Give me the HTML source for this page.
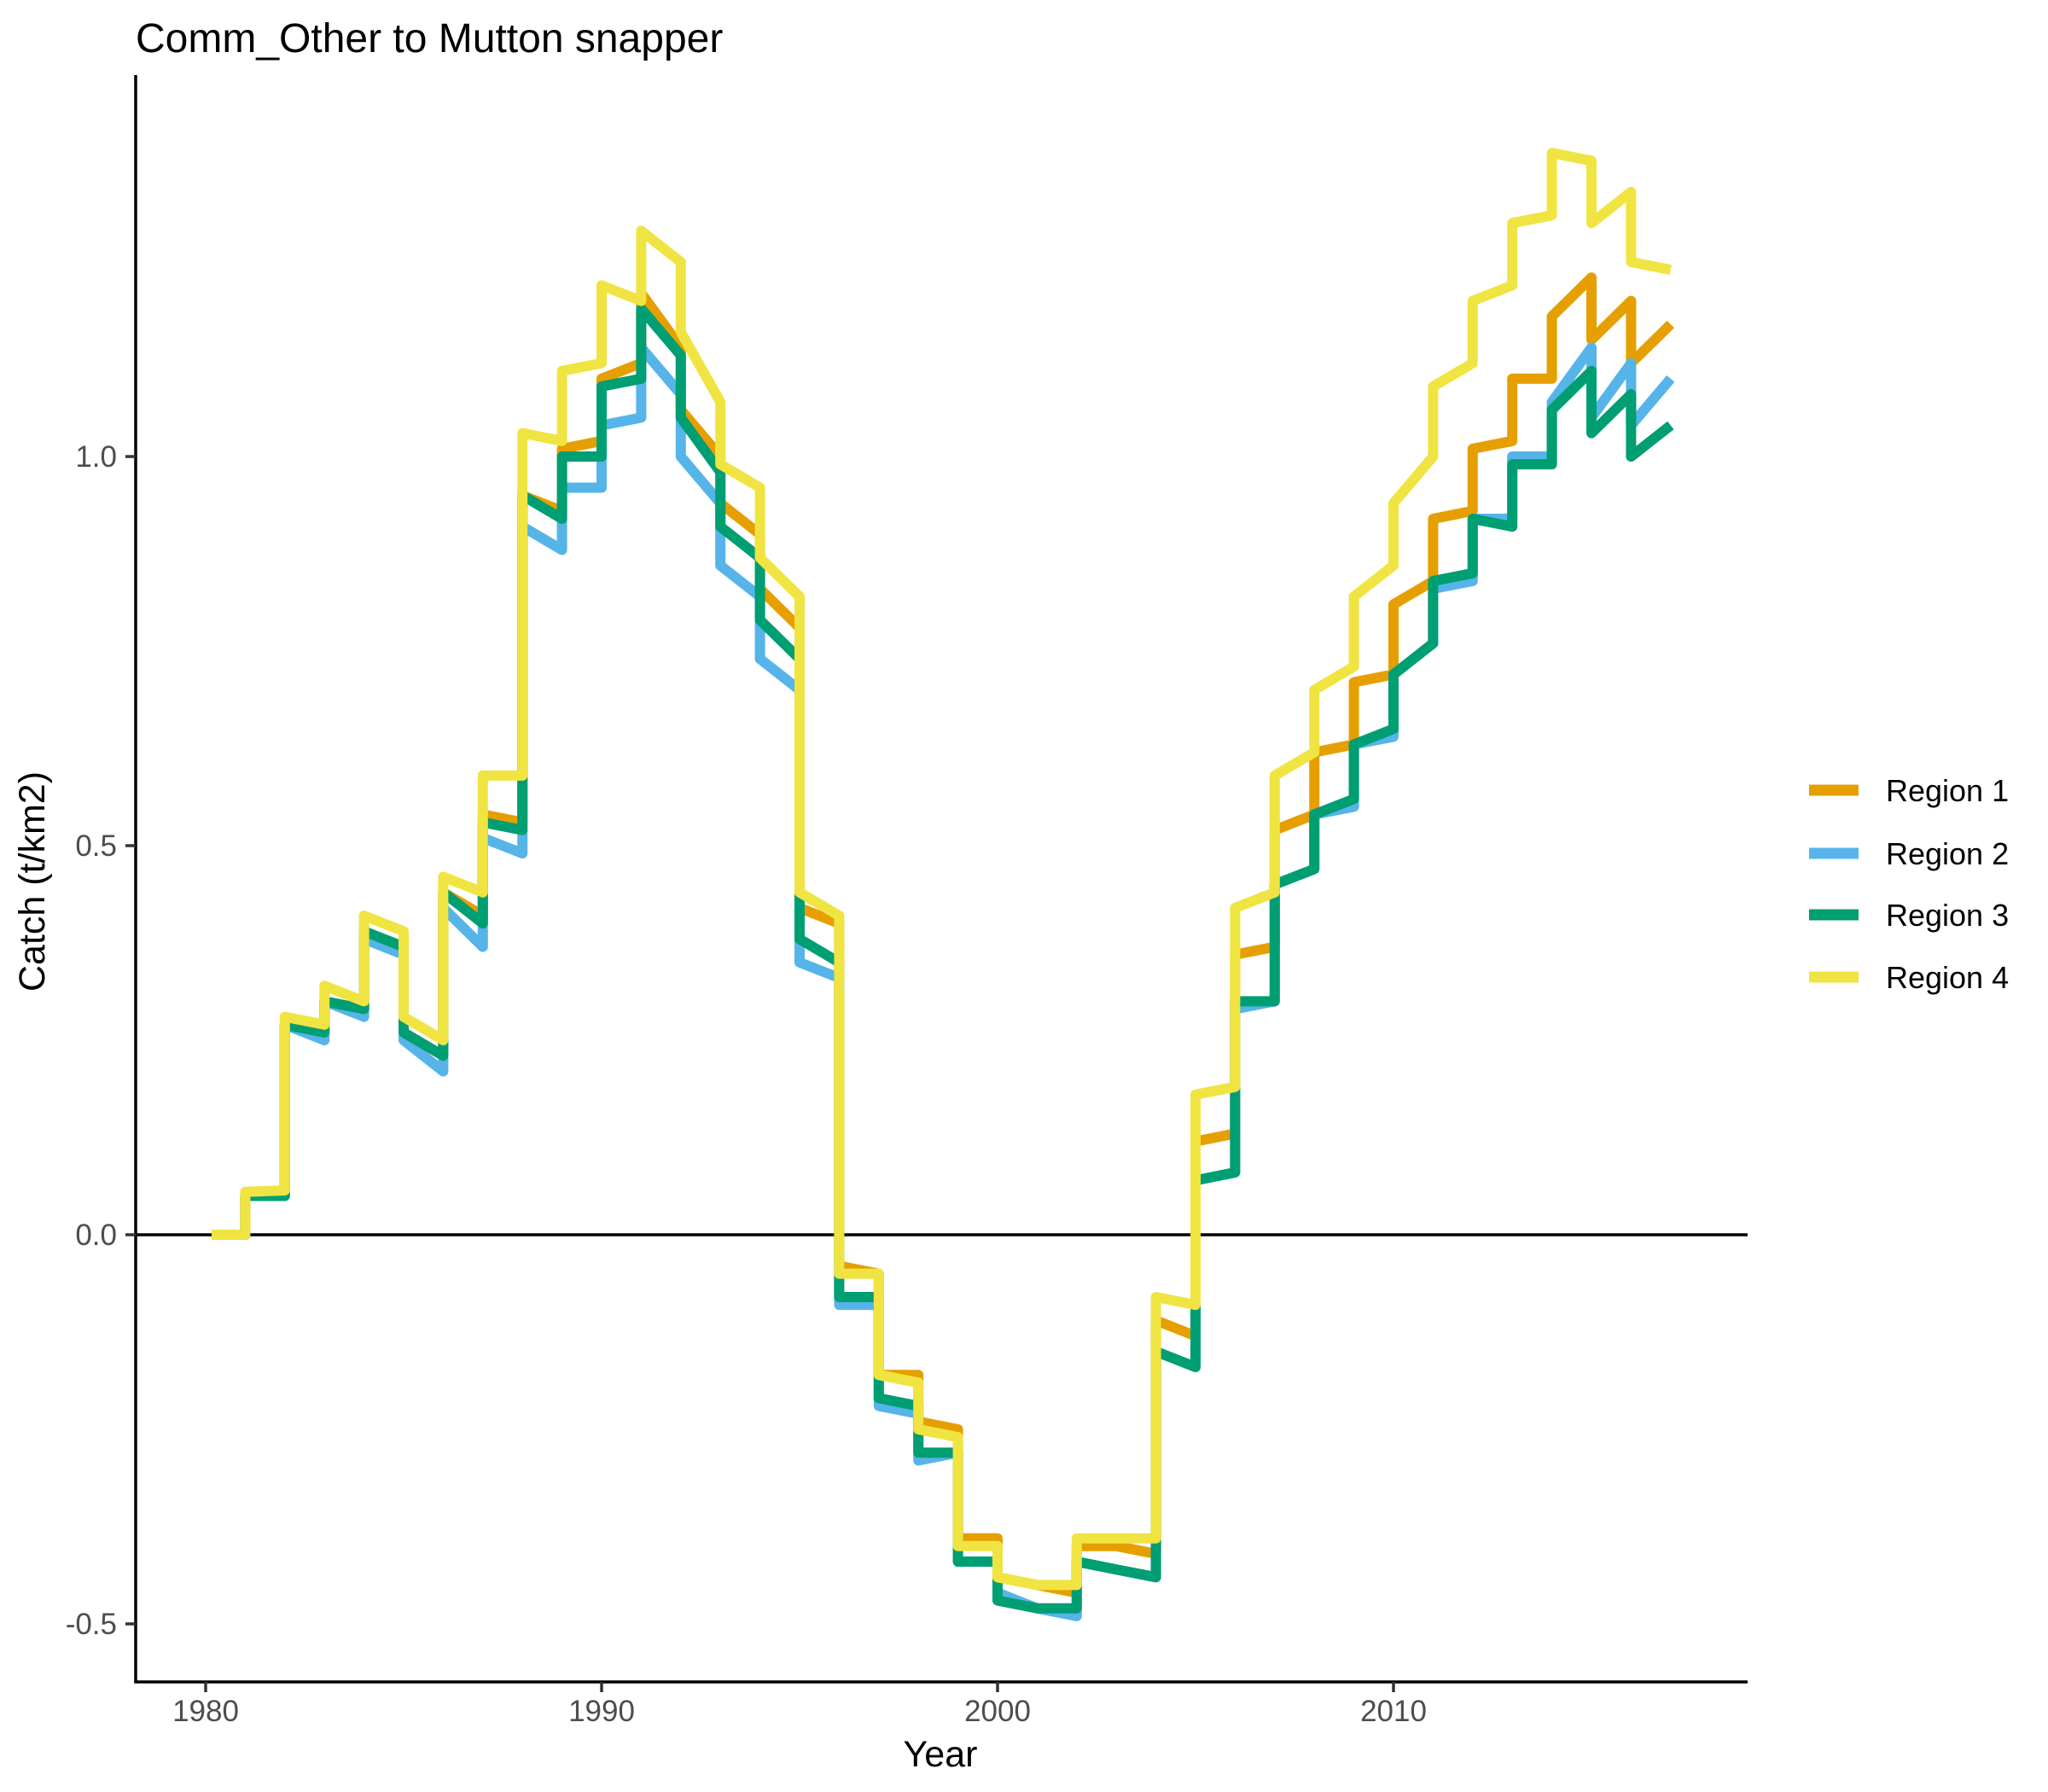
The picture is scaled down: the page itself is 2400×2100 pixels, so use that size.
<!DOCTYPE html>
<html><head><meta charset="utf-8"><style>
body{margin:0;background:#fff;}
svg{display:block;font-family:"Liberation Sans",Arial,sans-serif;}
</style></head><body>
<svg id="chart" width="2400" height="2100" viewBox="0 0 2400 2100">
<text x="159" y="61" font-size="48" fill="#000">Comm_Other to Mutton snapper</text>
<g id="plot"></g>
<text transform="translate(52,1033) rotate(-90)" text-anchor="middle" font-size="43" fill="#000">Catch (t/km2)</text>
<text x="1102" y="2070" text-anchor="middle" font-size="43" fill="#000">Year</text>
<g id="legend"></g>
</svg>
<script>
const years = [1980,1981,1982,1983,1984,1985,1986,1987,1988,1989,1990,1991,1992,1993,1994,1995,1996,1997,1998,1999,2000,2001,2002,2003,2004,2005,2006,2007,2008,2009,2010,2011,2012,2013,2014,2015,2016];
const region1Start = [0,.05,.27,.30,.39,.26,.44,.54,.95,1.01,1.10,1.21,1.06,.94,.83,.42,-.04,-.18,-.24,-.39,-.44,-.45,-.40,-.40,-.11,.12,.36,.52,.62,.71,.81,.92,1.01,1.10,1.18,1.15,1.12];
const region1End   = [0,.05,.26,.29,.37,.23,.41,.53,.93,1.02,1.12,1.14,1.00,.90,.78,.40,-.05,-.18,-.25,-.39,-.45,-.46,-.40,-.41,-.13,.13,.37,.54,.63,.72,.84,.93,1.02,1.10,1.23,1.20,1.17];
const region2Start = [0,.05,.27,.30,.38,.25,.42,.51,.91,.96,1.04,1.14,1.00,.86,.74,.35,-.09,-.22,-.29,-.42,-.46,-.48,-.42,-.43,-.15,.07,.29,.45,.54,.63,.72,.83,.92,1.00,1.07,1.05,1.04];
const region2End   = [0,.05,.25,.28,.36,.21,.37,.49,.88,.96,1.05,1.08,.94,.82,.70,.33,-.09,-.23,-.28,-.42,-.48,-.49,-.43,-.44,-.17,.08,.30,.47,.55,.64,.76,.84,.92,1.00,1.14,1.12,1.10];
const region3Start = [0,.05,.27,.30,.39,.26,.44,.53,.95,1.00,1.09,1.19,1.05,.91,.79,.38,-.08,-.21,-.28,-.42,-.47,-.48,-.42,-.43,-.15,.07,.30,.45,.54,.63,.72,.84,.92,.99,1.06,1.03,1.00];
const region3End   = [0,.05,.26,.29,.37,.23,.40,.52,.92,1.00,1.10,1.13,.98,.87,.74,.35,-.08,-.22,-.28,-.42,-.48,-.48,-.43,-.44,-.17,.08,.30,.47,.56,.65,.76,.85,.91,.99,1.11,1.08,1.04];
const region4Start = [0,.055,.28,.32,.41,.28,.46,.59,1.03,1.11,1.22,1.29,1.16,.99,.87,.44,-.05,-.18,-.25,-.40,-.44,-.45,-.39,-.39,-.08,.18,.42,.59,.70,.82,.94,1.09,1.20,1.30,1.39,1.30,1.25];
const region4End   = [0,.057,.27,.30,.39,.25,.44,.59,1.02,1.12,1.20,1.25,1.07,.96,.82,.41,-.05,-.19,-.26,-.40,-.45,-.45,-.39,-.39,-.09,.19,.44,.62,.73,.86,1.00,1.12,1.22,1.31,1.38,1.34,1.24];
const seriesNames = ["Region 1","Region 2","Region 3","Region 4"];
const yTicks = [-0.5,0,0.5,1.0];
const yTickLabels = ["-0.5","0.0","0.5","1.0"];
const xTicks = [1980,1990,2000,2010];

const NS="http://www.w3.org/2000/svg";
const colors=["#E69F00","#56B4E9","#009E73","#F0E442"];
const L=159,R=2048,T=88,B=1971;
function xs(y){return 241+(y-1980)*46.4;}
function ys(v){return 1447-v*912;}
function mk(tag,attrs,parent){const e=document.createElementNS(NS,tag);for(const k in attrs)e.setAttribute(k,attrs[k]);parent.appendChild(e);return e;}
const plot=document.getElementById('plot');
const zl=mk('line',{x1:L,x2:R,y1:ys(0),y2:ys(0),stroke:'#000','stroke-width':3.5},plot);


const starts=[region1Start,region2Start,region3Start,region4Start];
const ends=[region1End,region2End,region3End,region4End];
for(let s=0;s<4;s++){
  let d='';
  for(let i=0;i<years.length;i++){
    const x0=i===0?xs(years[i]+0.15):xs(years[i]);
    d+=(i===0?'M':'L')+x0.toFixed(1)+','+ys(starts[s][i]).toFixed(1);
    d+='L'+xs(years[i]+1).toFixed(1)+','+ys(ends[s][i]).toFixed(1);
  }
  const p=mk('path',{d:d,fill:'none',stroke:colors[s],'stroke-width':12,'stroke-linejoin':'round'},plot);
  
  
}
const ya=mk('line',{x1:L,x2:L,y1:T,y2:B,stroke:'#000','stroke-width':3.5},plot);


const xa=mk('line',{x1:L-1.75,x2:R,y1:B,y2:B,stroke:'#000','stroke-width':3.5},plot);


yTicks.forEach((v,i)=>{
  const t=mk('line',{x1:L-12,x2:L,y1:ys(v),y2:ys(v),stroke:'#333','stroke-width':3.5},plot);
  
  
  const tx=mk('text',{x:L-22,y:ys(v)+12,'text-anchor':'end','font-size':35,fill:'#4d4d4d'},plot);
  tx.textContent=yTickLabels[i];
  
  
});
xTicks.forEach(v=>{
  const t=mk('line',{x1:xs(v),x2:xs(v),y1:B,y2:B+12,stroke:'#333','stroke-width':3.5},plot);
  
  
  const tx=mk('text',{x:xs(v),y:2017,'text-anchor':'middle','font-size':35,fill:'#4d4d4d'},plot);
  tx.textContent=String(v);
  
  
});
const lg=document.getElementById('legend');
const lys=[926,1000,1072,1145];
seriesNames.forEach((n,i)=>{
  const k=mk('rect',{x:2120,y:lys[i]-6.5,width:58,height:13,fill:colors[i]},lg);
  
  
  const tx=mk('text',{x:2210,y:lys[i]+13,'font-size':36,fill:'#000'},lg);
  tx.textContent=n;
  
  
});
</script>
</body></html>
